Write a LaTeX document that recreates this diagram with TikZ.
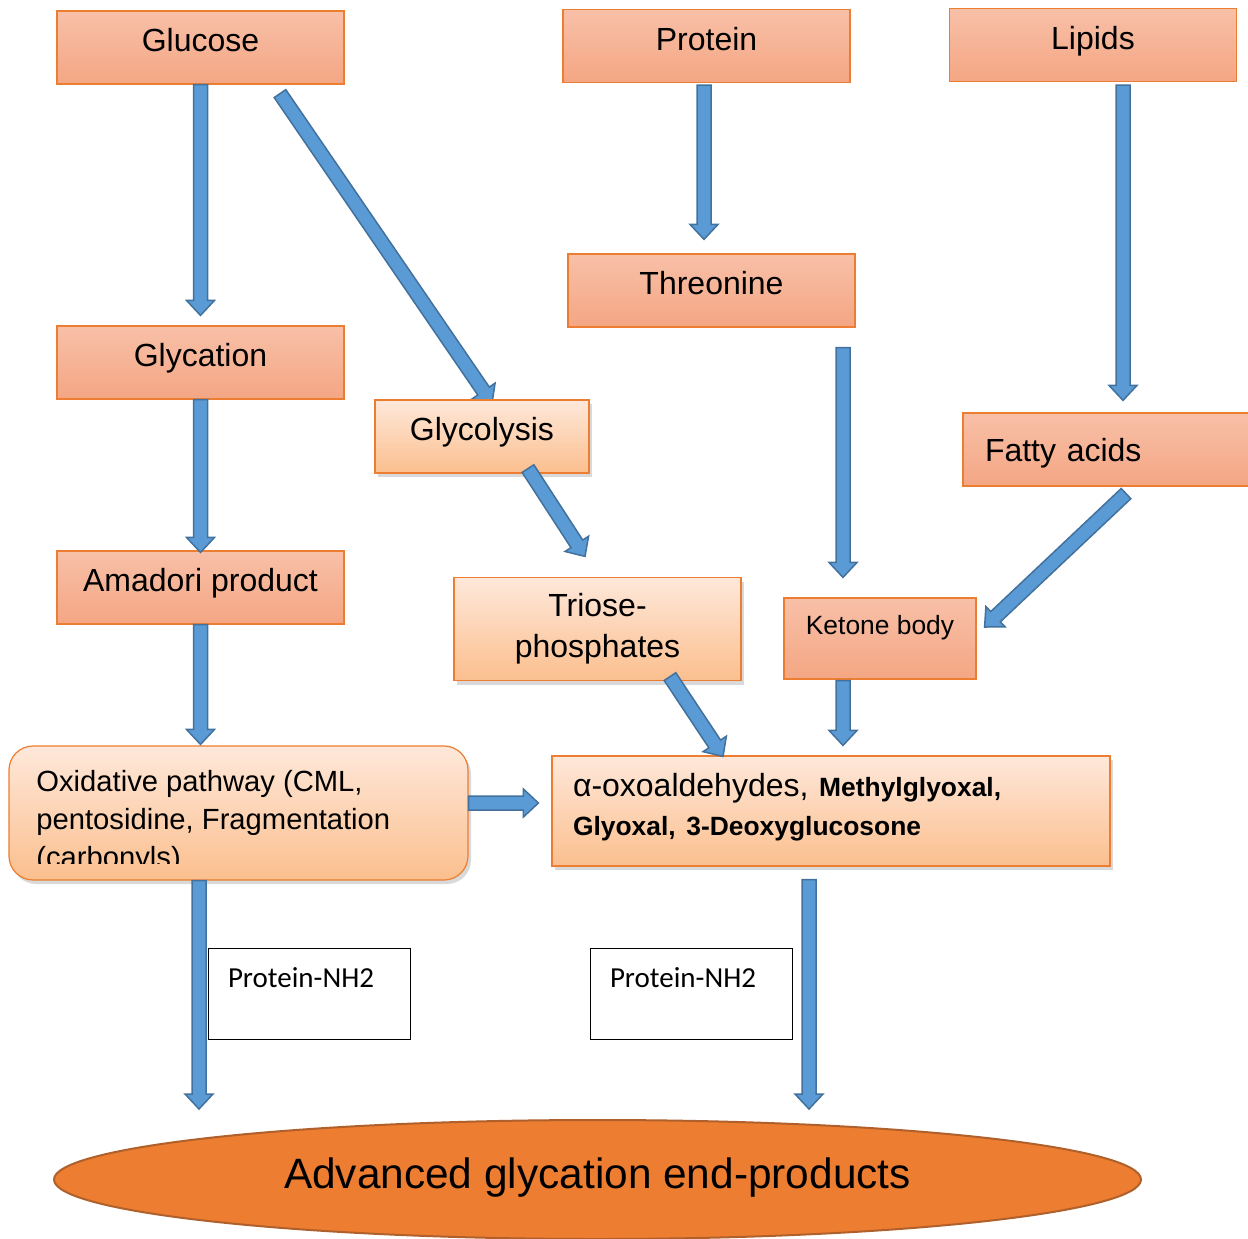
\documentclass[tikz,border=0pt]{standalone}
\usepackage{fontspec}
\setmainfont{Liberation Sans}
\newfontfamily\calibrifont{Carlito}
\usepackage{xcolor}
\usetikzlibrary{calc,shapes.geometric,shadows,backgrounds}
\definecolor{ageOrange}{HTML}{ED7D31}
\definecolor{ageEdge}{HTML}{B0602A}
\definecolor{salmonTop}{HTML}{F8C0A8}
\definecolor{salmonBot}{HTML}{F4A683}
\definecolor{peachTop}{HTML}{FEE8DA}
\definecolor{peachBot}{HTML}{FBBF8E}
\definecolor{arrowBlue}{HTML}{5B9BD5}
\definecolor{arrowEdge}{HTML}{41719C}
\newcommand{\chem}[1]{{\bfseries\fontsize{13.2}{19.5}\selectfont #1}}
\frenchspacing

\begin{document}
\begin{tikzpicture}[x=0.5pt, y=-0.5pt,
  salmon/.style={draw=ageOrange, line width=0.6pt, top color=salmonTop, bottom color=salmonBot,
    font=\fontsize{16}{19}\selectfont, text height=12pt, text depth=7.6pt,
    minimum width=143.5pt, minimum height=36.5pt, inner sep=0pt},
  peach/.style={draw=ageOrange, line width=0.6pt, top color=peachTop, bottom color=peachBot,
    drop shadow={shadow xshift=1.5pt, shadow yshift=-2pt, opacity=0.3},
    font=\fontsize{16}{19.5}\selectfont, inner sep=0pt},
  nhbox/.style={draw=black, line width=0.5pt, fill=white, minimum width=101pt, minimum height=45.5pt,
    text width=81pt, inner xsep=10pt, inner ysep=0pt, align=left,
    font=\calibrifont\fontsize{14.5}{17}\selectfont, text height=11pt, text depth=17.1pt},
  age/.style={ellipse, draw=ageEdge, line width=1pt, fill=ageOrange, inner sep=0pt,
    minimum width=543.5pt, minimum height=59.5pt, font=\fontsize{21.2}{25}\selectfont,
    text height=15.5pt, text depth=6.8pt},
  blockarrow/.style={draw=arrowEdge, fill=arrowBlue, line width=0.75pt, line join=miter,
    to path={let \p1=(\tikztostart), \p2=(\tikztotarget), \p3=($(\p2)!7.5pt!(\p1)$) in
      ($(\p1)!3.5pt!90:(\p2)$) -- ($(\p3)!3.5pt!90:(\p2)$) -- ($(\p3)!7pt!90:(\p2)$) -- (\p2)
      -- ($(\p3)!7pt!-90:(\p2)$) -- ($(\p3)!3.5pt!-90:(\p2)$) -- ($(\p1)!3.5pt!-90:(\p2)$) -- cycle}}]
\useasboundingbox (0,0) rectangle (1248,1238);

% --- sources ---
\node[salmon] (glucose) at (200.5,47.5) {Glucose};
\node[salmon] (protein) at (706.5,46) {Protein};
\node[salmon] (lipids) at (1093,45) {Lipids};

% --- intermediates ---
\node[salmon] (threonine) at (711.5,290.5) {Threonine};
\node[salmon] (glycation) at (200.5,362.5) {Glycation};
\node[peach, minimum width=107pt, minimum height=36.5pt, text height=12pt, text depth=7.6pt] (glycolysis) at (482,436.5) {Glycolysis};
\node[salmon, minimum width=150pt, text width=128pt, inner xsep=10.5pt, align=left,
  text height=11.5pt, text depth=0pt] (fatty) at (1113,449.5) {Fatty acids};
\node[salmon] (amadori) at (200.5,587.5) {Amadori product};
\node[peach, minimum width=143.5pt, minimum height=51.5pt, align=center, font=\fontsize{16}{20.5}\selectfont] (triose) at (597.5,629) {Triose-\\phosphates};
\node[salmon, minimum width=96pt, minimum height=40.5pt, font=\fontsize{13.2}{16}\selectfont,
  text height=10pt, text depth=14.1pt] (ketone) at (880,638.5) {Ketone body};

% --- pathways ---
\node[peach, rounded corners=12pt, minimum width=229.5pt, minimum height=67pt] (oxid) at (238.5,813) {};
\begin{scope}
  \clip (12,750) rectangle (466,863);
  \node[anchor=north west, inner sep=0pt, align=left, font=\fontsize{14.6}{19}\selectfont] (oxidtext) at (36,770)
    {Oxidative pathway (CML,\\pentosidine, Fragmentation\\(carbonyls)};
\end{scope}
\node[peach, minimum width=279pt, minimum height=55pt, text width=258pt, inner xsep=10.5pt, align=left,
  text height=11.7pt, text depth=26.3pt] (alpha) at (831,811)
  {α-oxoaldehydes, \chem{Methylglyoxal,}\\\chem{Glyoxal, 3-Deoxyglucosone}};

\node[nhbox] (nhA) at (309,993.5) {Protein-NH2};
\node[nhbox] (nhB) at (691,993.5) {Protein-NH2};

\node[age] (age) at (597.5,1179.5) {Advanced glycation end-products};

% --- block arrows ---
\begin{scope}[on background layer]
  \path[blockarrow] ([xshift=39.75pt,yshift=-4.5pt]glucose.south) to ([xshift=5pt,yshift=-2pt]glycolysis.north);
\end{scope}
\path[blockarrow] (glucose.south) to ([yshift=5pt]glycation.north);
\path[blockarrow] (glycation.south) to ([yshift=-1pt]amadori.north);
\path[blockarrow] (amadori.south) to ($(amadori.south |- oxid.north)+(0,0.5pt)$);
\path[blockarrow] ([xshift=23pt,yshift=2.5pt]glycolysis.south) to ([xshift=-6.25pt,yshift=10.25pt]triose.north);
\path[blockarrow] ([xshift=-1.25pt,yshift=-1pt]protein.south) to ([xshift=-3.75pt,yshift=7pt]threonine.north);
\path[blockarrow] ([xshift=65.75pt,yshift=-10pt]threonine.south) to ([xshift=-18.5pt,yshift=10pt]ketone.north);
\path[blockarrow] ([xshift=15pt,yshift=-1.5pt]lipids.south) to ([xshift=5pt,yshift=6pt]fatty.north);
\path[blockarrow] ([xshift=6.5pt,yshift=-3.5pt]fatty.south) to ([xshift=4pt,yshift=5.75pt]ketone.east);
\path[blockarrow] ([xshift=-18.5pt,yshift=-0.5pt]ketone.south) to ([xshift=6pt,yshift=5pt]alpha.north);
\path[blockarrow] ([xshift=36.25pt,yshift=2.25pt]triose.south) to ([xshift=-54pt,yshift=-0.5pt]alpha.north);
\path[blockarrow] ([yshift=5pt]oxid.east) to ([xshift=-6.5pt,yshift=4pt]alpha.west);
\path[blockarrow] ([xshift=-19.75pt]oxid.south) to ([xshift=-199.25pt,yshift=5pt]age.north);
\path[blockarrow] ([xshift=-11pt,yshift=-6.5pt]alpha.south) to ([xshift=105.75pt,yshift=5pt]age.north);
\end{tikzpicture}
\end{document}
